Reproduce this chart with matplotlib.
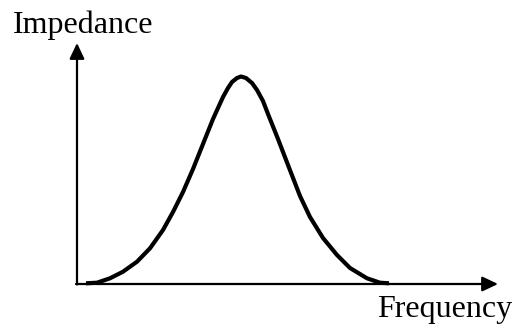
import numpy as np
import matplotlib.pyplot as plt

frequency = [9, 20, 33, 46, 60, 73, 86, 96, 106, 116, 126, 136, 146, 151, 155,
             160, 164, 169, 175, 180, 186, 191, 201, 211, 223, 233, 246, 260,
             273, 290, 303, 312]
impedance = [0.7, 1.3, 5.7, 12.3, 22.3, 35.7, 54, 72, 92, 115, 140, 165, 187,
             196, 202, 206, 207.5, 206, 201, 194, 183, 170, 145, 119, 88, 67,
             46, 29, 16, 5.7, 1.3, 0.7]

x_label = "Frequency"
y_label = "Impedance"
x_end = 421
y_end = 241

fig = plt.figure(figsize=(5.19, 3.27), dpi=100)
ax = fig.add_axes([0, 0, 1, 1])
ax.set_xlim(-77, 442)
ax.set_ylim(-43, 284)
ax.axis("off")

arrow = dict(arrowstyle="-|>,head_length=0.95,head_width=0.45", mutation_scale=10,
             lw=1.6, color="black", shrinkA=0, shrinkB=0)
ax.annotate("", xy=(x_end, 0), xytext=(-1, 0), arrowprops=arrow)
ax.annotate("", xy=(0, y_end), xytext=(0, -0.5), arrowprops=arrow)

ax.plot(frequency, impedance, color="black", lw=3.0, solid_joinstyle="round",
        solid_capstyle="butt")

font = dict(family=["Liberation Serif", "DejaVu Serif"], fontsize=23)
ax.text(-64, 251, y_label, ha="left", va="baseline", **font)
ax.text(435, -33, x_label, ha="right", va="baseline", **font)

fig.savefig("out.png", dpi=100)
